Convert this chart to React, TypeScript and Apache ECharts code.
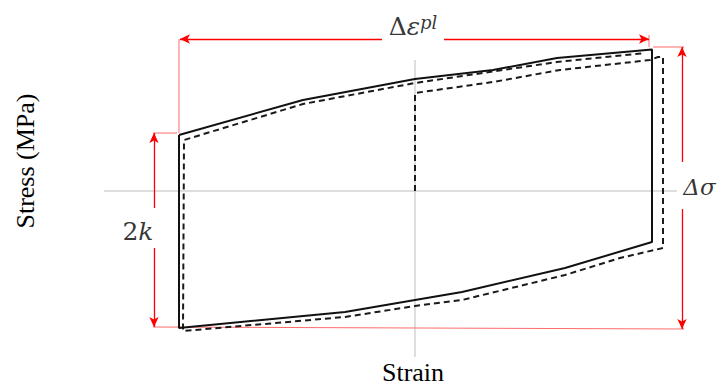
import React, { useEffect, useRef } from "react";
import * as echarts from "echarts";

// Stabilized (solid) hysteresis loop: strain (%) and stress (MPa)
const solidStrain = [-0.472, -0.224, 0, 0.156, 0.284, 0.474, 0.474, 0.3, 0.094, 0, -0.14, -0.472, -0.472];
const solidStress = [112, 182, 224, 242, 266, 283, -102, -154, -202, -218, -242, -274, 112];

// Initial loading + first cycle (dashed)
const dashedStrain = [0, 0, 0.156, 0.29, 0.47, 0.486, 0.496, 0.496, 0.41, 0.3, 0.094, 0, -0.14, -0.464, -0.462, -0.224, 0, 0.284, 0.46];
const dashedStress = [0, 196, 218, 242, 262, 268, 268, -114, -134, -168, -218, -230, -252, -280, 102, 174, 216, 258, 276];

// Reference axes (gray)
const hAxisStrain = [-0.622, 0.524];
const hAxisStress = [0, 0];
const vAxisStrain = [0, 0];
const vAxisStress = [262, -332];

// Dimension arrows: [x1, y1, x2(tip), y2(tip)]
const arrowSegments: number[][] = [
  [-0.066, 304, -0.47, 304],
  [0.058, 304, 0.468, 304],
  [-0.522, -34, -0.522, 116],
  [-0.522, -114, -0.522, -272],
  [0.534, 58, 0.534, 288],
  [0.534, -36, 0.534, -276],
];

// Extension lines: [x1, y1, x2, y2]
const extensionLines: number[][] = [
  [-0.472, 304, -0.472, 116],
  [0.468, 312, 0.468, 288],
  [-0.524, 116, -0.476, 116],
  [0.476, 288, 0.538, 288],
  [-0.524, -272, 0.538, -276],
];

// Annotation labels
const annotStrain = [-0.004, -0.554, 0.569];
const annotStress = [330, -80, 8];
const annotText = ["{a|Δ}{b|ε}{c|pl}", "{a|2}{b|k}", "{d|Δσ}"];

const zip = (xs: number[], ys: number[]) => xs.map((x, i) => [x, ys[i]]);

export default function App() {
  const ref = useRef<HTMLDivElement>(null);
  useEffect(() => {
    if (!ref.current) return;
    const chart = echarts.init(ref.current, undefined, { renderer: "svg" });
    const red = "#ff0000";
    const series: any[] = [
      {
        type: "line",
        data: zip(hAxisStrain, hAxisStress),
        symbol: "none",
        lineStyle: { color: "#bdbdbd", width: 1 },
        silent: true,
        markLine: {
          silent: true,
          symbol: ["none", "arrow"],
          symbolSize: [7, 10],
          label: { show: false },
          lineStyle: { color: red, width: 1.3, type: "solid" },
          data: arrowSegments.map((s) => [{ coord: [s[0], s[1]] }, { coord: [s[2], s[3]] }]),
        },
      },
      {
        type: "line",
        data: zip(vAxisStrain, vAxisStress),
        symbol: "none",
        lineStyle: { color: "#bdbdbd", width: 1 },
        silent: true,
      },
      ...extensionLines.map((s) => ({
        type: "line",
        data: [
          [s[0], s[1]],
          [s[2], s[3]],
        ],
        symbol: "none",
        lineStyle: { color: "#ff6b6b", width: 1 },
        silent: true,
      })),
      {
        type: "line",
        data: zip(dashedStrain, dashedStress),
        symbol: "none",
        lineStyle: { color: "#1a1a1a", width: 2, type: [6, 4] },
        silent: true,
      },
      {
        type: "line",
        data: zip(solidStrain, solidStress),
        symbol: "none",
        lineStyle: { color: "#111111", width: 2 },
        silent: true,
      },
      {
        type: "scatter",
        data: zip(annotStrain, annotStress).map((p, i) => ({ value: p, label: { formatter: annotText[i] } })),
        symbolSize: 0,
        silent: true,
        label: {
          show: true,
          position: "inside",
          color: "#000",
          rich: {
            a: { fontFamily: "DejaVu Serif", fontSize: 25, color: "#000" },
            b: { fontFamily: "DejaVu Serif", fontStyle: "italic", fontSize: 25, color: "#000" },
            c: { fontFamily: "DejaVu Serif", fontStyle: "italic", fontSize: 18, color: "#000", verticalAlign: "top" },
            d: { fontFamily: "DejaVu Serif", fontStyle: "italic", fontSize: 23, color: "#000" },
          },
        },
      },
    ];
    chart.setOption({
      animation: false,
      backgroundColor: "#ffffff",
      grid: { left: 0, right: 0, top: 0, bottom: 0 },
      xAxis: { type: "value", min: -0.83, max: 0.608, show: false },
      yAxis: { type: "value", min: -388, max: 382, show: false },
      series,
      graphic: [
        {
          type: "text",
          x: 25,
          y: 161,
          rotation: Math.PI / 2,
          style: {
            text: "Stress (MPa)",
            fontFamily: "Liberation Serif",
            fontSize: 26,
            fill: "#000",
            align: "center",
            verticalAlign: "middle",
          },
        },
        {
          type: "text",
          x: 413,
          y: 372,
          style: {
            text: "Strain",
            fontFamily: "Liberation Serif",
            fontSize: 26,
            fill: "#000",
            align: "center",
            verticalAlign: "middle",
          },
        },
      ],
    });
    return () => chart.dispose();
  }, []);
  return (
    <div
      ref={ref}
      style={{ position: "fixed", left: 0, top: 0, width: 719, height: 385, background: "#fff" }}
    />
  );
}
